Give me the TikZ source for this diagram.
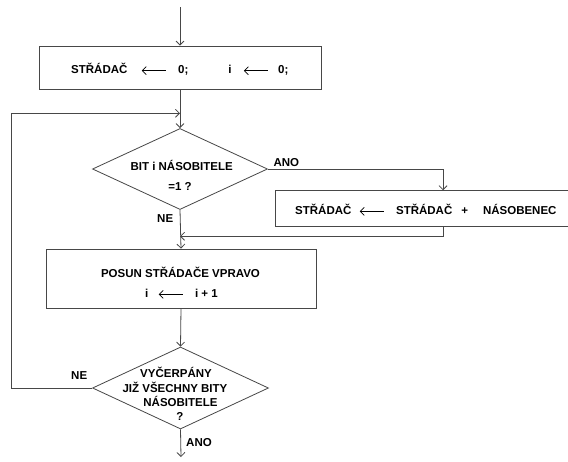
\documentclass[tikz,border=0pt]{standalone}
\usepackage{fontspec}
\setmainfont{Liberation Sans}
\usetikzlibrary{arrows.meta,shapes.geometric}
\newcommand{\larr}{\tikz[baseline=-2.6pt]\draw[line width=0.7pt,{Straight Barb[length=4pt,width=8pt,line width=0.7pt]}-](0pt,0pt)--(24pt,0pt);}
\begin{document}
\begin{tikzpicture}[x=1pt,y=-1pt,
  line/.style={draw=black!72,line width=0.8pt},
  arr/.style={line,-{Straight Barb[length=4pt,width=8pt]}},
  box/.style={draw=black!72,line width=0.8pt,rectangle,inner sep=0pt},
  dia/.style={draw=black!72,line width=0.8pt,diamond,inner sep=0pt},
  txt/.style={font=\fontsize{11.5}{13}\selectfont\bfseries,inner sep=0pt,anchor=base}]
\clip (0,0) rectangle (568,461);
\fill[white] (0,0) rectangle (568,461);
% shapes
\node[box,minimum width=282pt,minimum height=43pt] (b1) at (180,67.5) {};
\node[dia,minimum width=175pt,minimum height=81pt] (d1) at (180,169) {};
\node[box,minimum width=300pt,minimum height=35.3pt] (b2) at (425.7,208.3) {};
\node[box,minimum width=270pt,minimum height=59pt] (b3) at (181,278.5) {};
\node[dia,minimum width=176pt,minimum height=82pt] (d2) at (180.5,388) {};
% texts
\node[txt,anchor=base west] (t1) at (71,73.3) {STŘÁDAČ\hspace{14pt}\larr\hspace{12pt}0;\hspace{40pt}i\hspace{12pt}\larr\hspace{10pt}0;};
\node[txt] (t2a) at (181.7,170) {BIT i NÁSOBITELE};
\node[txt] (t2b) at (180,190) {=1 ?};
\node[txt,anchor=base west] (t3) at (295,214) {STŘÁDAČ\hspace{8pt}\larr\hspace{12pt}STŘÁDAČ\hspace{9pt}+\hspace{15pt}NÁSOBENEC};
\node[txt] (t4a) at (180.5,277.3) {POSUN STŘÁDAČE VPRAVO};
\node[txt,anchor=base west] (t4b) at (145,297) {i\hspace{10pt}\larr\hspace{12pt}i + 1};
\node[txt] (t5a) at (176,377) {VYČERPÁNY};
\node[txt] (t5b) at (175,392) {JIŽ VŠECHNY BITY};
\node[txt] (t5c) at (180.5,406.5) {NÁSOBITELE};
\node[txt] (t5d) at (180,420.5) {?};
% labels
\node[txt,anchor=base west] (ano1) at (273.3,166) {ANO};
\node[txt,anchor=base west] (ne1) at (157,222) {NE};
\node[txt,anchor=base west] (ne2) at (71,379) {NE};
\node[txt,anchor=base west] (ano2) at (186,446.5) {ANO};
% coordinates
\coordinate (s0) at (180,7);
\coordinate (j1) at (180,113.3);
\coordinate (j2) at (180,236.3);
\coordinate (bx) at (443,0);
\coordinate (lx) at (11.7,0);
\coordinate (e0) at (181,457);
% connectors
\draw[arr] (s0) -- (b1.north);
\draw[line] (b1.south) -- (j1);
\draw[arr] (j1) -- (d1.north);
\draw[arr] (d1.east) -| (bx |- b2.north);
\draw[arr] (bx |- b2.south) |- (j2);
\draw[arr] (d1.south) -- (b3.north);
\draw[arr] (b3.south) -- (d2.north);
\draw[arr] (d2.west) -| (lx |- j1) -- (j1);
\draw[arr] (d2.south) -- (e0);
\end{tikzpicture}
\end{document}
